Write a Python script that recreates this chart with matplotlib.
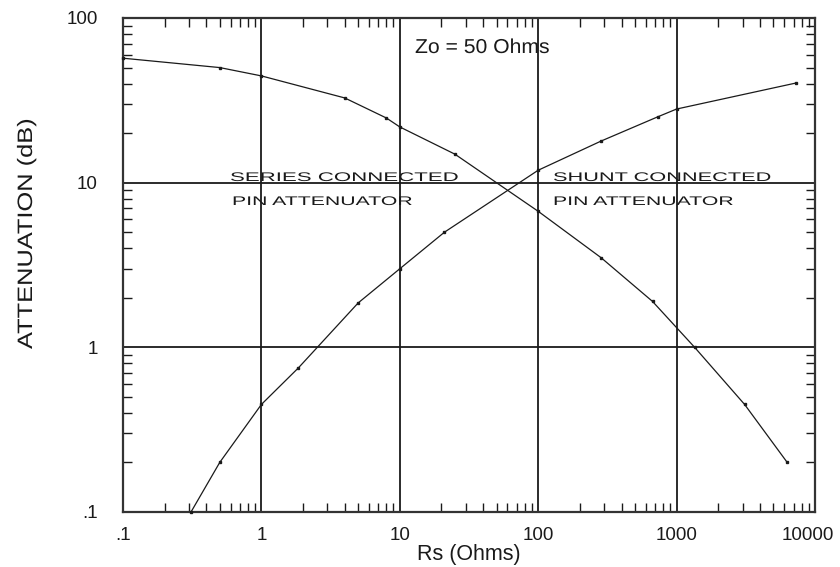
import matplotlib
matplotlib.use('Agg')
import matplotlib.pyplot as plt
import matplotlib.patheffects as pe
from matplotlib.transforms import Affine2D, ScaledTranslation
from matplotlib.ticker import LogLocator, NullFormatter

# Series connected PIN attenuator
rs_series = [0.1, 0.5, 1, 4, 8, 10, 25, 100, 285, 670, 1350, 3100, 6300]
att_series = [57, 50, 44.5, 32.7, 24.7, 21.8, 14.9, 6.7, 3.5, 1.9, 1.0, 0.45, 0.2]

# Shunt connected PIN attenuator
rs_shunt = [0.31, 0.5, 1, 1.85, 5, 10, 21, 100, 285, 730, 1000, 7300]
att_shunt = [0.1, 0.2, 0.45, 0.75, 1.86, 3.0, 5.0, 11.9, 17.9, 25.1, 28, 40.3]

x_ticks = [0.1, 1, 10, 100, 1000, 10000]
x_tick_labels = ['.1', '1', '10', '100', '1000', '10000']
y_ticks = [0.1, 1, 10, 100]
y_tick_labels = ['.1', '1', '10', '100']

W, H = 840, 567
ink = '#1a1a1a'
plt.rcParams['font.family'] = ['Liberation Sans', 'DejaVu Sans']


class Stretch(pe.AbstractPathEffect):
    # widen the glyphs sideways, like the old plotter font
    def __init__(self, sx):
        super().__init__()
        self.sx = sx

    def draw_path(self, renderer, gc, tpath, affine, rgbFace=None):
        renderer.draw_path(gc, tpath, Affine2D().scale(self.sx, 1) + affine, rgbFace)


def px(x, y):
    # pixel position in the 840x567 picture -> figure fraction
    return x / W, 1 - y / H


fig = plt.figure(figsize=(W / 100, H / 100), dpi=100)
ax = fig.add_axes([123 / W, 1 - 512 / H, (815 - 123) / W, (512 - 18) / H])

ax.plot(rs_series, att_series, color=ink, lw=0.9, marker='s', ms=2.0, clip_on=False, zorder=3)
ax.plot(rs_shunt, att_shunt, color=ink, lw=0.9, marker='s', ms=2.0, clip_on=False, zorder=3)

ax.set_xscale('log')
ax.set_yscale('log')
ax.set_xlim(0.1, 10000)
ax.set_ylim(0.1, 100)

ax.set_xticks(x_ticks, labels=x_tick_labels)
ax.set_yticks(y_ticks, labels=y_tick_labels)
ax.xaxis.set_minor_locator(LogLocator(base=10, subs=range(2, 10), numticks=20))
ax.yaxis.set_minor_locator(LogLocator(base=10, subs=range(2, 10), numticks=20))
ax.xaxis.set_minor_formatter(NullFormatter())
ax.yaxis.set_minor_formatter(NullFormatter())

ax.tick_params(which='both', direction='in', top=True, right=True, colors=ink)
ax.tick_params(which='major', length=0, labelsize=13.5)
ax.tick_params(which='minor', length=6.5, width=1.0)
ax.tick_params(axis='x', which='major', pad=11)
ax.tick_params(axis='y', which='major', pad=18)

# nudge the last x label so it stays inside the picture
last = ax.get_xticklabels()[-1]
last.set_transform(last.get_transform() + ScaledTranslation(-5 / 72, 0, fig.dpi_scale_trans))

ax.grid(which='major', color=ink, lw=1.3)
for s in ax.spines.values():
    s.set_linewidth(1.6)
    s.set_color('#333333')

ax.set_xlabel('Rs (Ohms)', fontsize=15.5, labelpad=0, color=ink)

# rotated, letter-spread axis title
fig.text(*px(32, 349), 'ATTENUATION (dB)', rotation=90, rotation_mode='anchor',
         ha='left', va='baseline', fontsize=15, color=ink,
         path_effects=[Stretch(1.22)])

fig.text(*px(415, 53), 'Zo = 50 Ohms', ha='left', va='baseline', fontsize=14.5,
         color=ink, path_effects=[Stretch(1.05)])

fig.text(*px(230, 181), 'SERIES CONNECTED', ha='left', va='baseline', fontsize=9,
         color=ink, path_effects=[Stretch(1.78)])
fig.text(*px(232, 205), 'PIN ATTENUATOR', ha='left', va='baseline', fontsize=9,
         color=ink, path_effects=[Stretch(1.7)])
fig.text(*px(553, 181), 'SHUNT CONNECTED', ha='left', va='baseline', fontsize=9,
         color=ink, path_effects=[Stretch(1.74)])
fig.text(*px(553, 205), 'PIN ATTENUATOR', ha='left', va='baseline', fontsize=9,
         color=ink, path_effects=[Stretch(1.7)])

fig.savefig('out.png', dpi=100)
